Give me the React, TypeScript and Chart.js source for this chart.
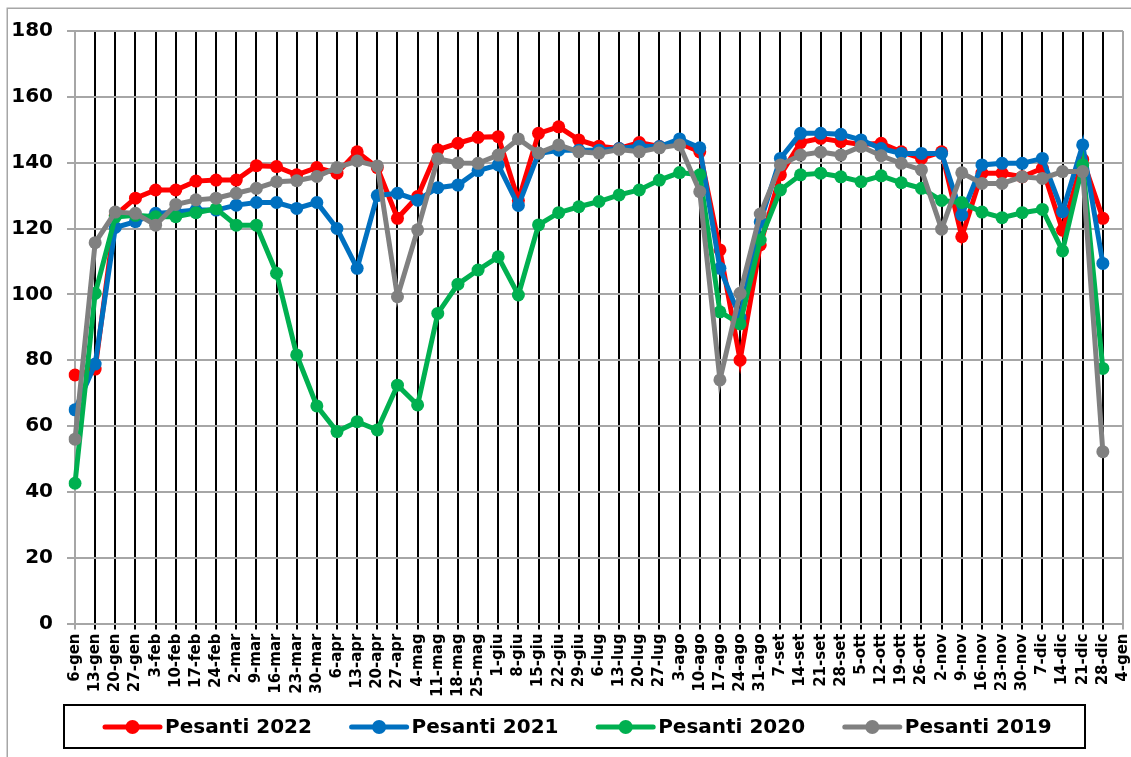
import React, { useEffect, useRef } from 'react';
import { Chart, registerables } from 'chart.js';

Chart.register(...registerables);

const categories = ['6-gen','13-gen','20-gen','27-gen','3-feb','10-feb','17-feb','24-feb','2-mar','9-mar','16-mar','23-mar','30-mar','6-apr','13-apr','20-apr','27-apr','4-mag','11-mag','18-mag','25-mag','1-giu','8-giu','15-giu','22-giu','29-giu','6-lug','13-lug','20-lug','27-lug','3-ago','10-ago','17-ago','24-ago','31-ago','7-set','14-set','21-set','28-set','5-ott','12-ott','19-ott','26-ott','2-nov','9-nov','16-nov','23-nov','30-nov','7-dic','14-dic','21-dic','28-dic','4-gen'];

const pesanti2022 = [75.5,77.3,124,129.2,131.7,131.7,134.4,134.7,134.7,139.1,138.8,136.3,138.5,136.8,143.3,138.5,123.1,129.7,143.9,145.9,147.7,147.9,128.5,148.9,150.9,146.9,145,144.3,146.1,144.9,145.9,143.3,113.5,80,115,136.3,146.1,147.4,146.4,145.5,145.9,143.3,141.3,143.3,117.5,136.8,136.8,135.7,138.3,119.5,141,123.1,null];
const pesanti2021 = [64.9,78.8,120.3,122.1,124.6,125,125.6,125.6,127.1,127.9,127.9,126.1,127.9,120,107.9,130,130.7,128.6,132.4,133.2,137.6,139.3,127,142.8,143.8,143.8,143.8,144.3,145,144.9,147.2,144.5,107.9,93,122,141.3,148.9,148.9,148.6,146.9,144.3,142.8,142.8,142.8,124.1,139.3,139.8,139.8,141.3,125.1,145.4,109.4,null];
const pesanti2020 = [42.6,100.3,123.5,124,123.6,123.6,124.8,126,121,121,106.4,81.6,66.1,58.3,61.3,58.8,72.4,66.4,94.2,103.1,107.4,111.4,99.8,121.1,124.8,126.6,128.2,130.2,131.7,134.7,137,136.3,94.7,91,116.5,131.7,136.3,136.8,135.7,134.2,136,133.9,132.2,128.5,127.9,125,123.3,124.8,125.8,113.2,139.3,77.5,null];
const pesanti2019 = [56,115.7,125,124.6,121,127.3,128.7,129.2,130.7,132.2,134.2,134.5,135.8,138.5,140.5,139,99.3,119.6,141.2,139.9,139.8,142.3,147.2,142.9,145.4,143.3,142.9,144,143.3,144.5,145.4,131.2,74,100.3,124.4,139.3,142.3,143.2,142.3,144.9,142.1,139.8,137.8,119.8,136.9,133.7,133.7,135.7,135.2,137.3,137.3,52.2,null];

const seriesNames = ['Pesanti 2022', 'Pesanti 2021', 'Pesanti 2020', 'Pesanti 2019'];
const seriesColors = ['#FF0000', '#0070C0', '#00B050', '#808080'];
const seriesData = [pesanti2022, pesanti2021, pesanti2020, pesanti2019];

const yMin = 0;
const yMax = 180;
const yStep = 20;

const FONT = '"DejaVu Sans", Verdana, sans-serif';

const framePlugin = {
  id: 'frameAndLegend',
  afterDraw(chart: any) {
    const ctx = chart.ctx as CanvasRenderingContext2D;
    ctx.save();
    // outer chart border
    ctx.strokeStyle = '#a6a6a6';
    ctx.lineWidth = 1.5;
    ctx.strokeRect(7.25, 8.25, 1200, 900);
    // legend box
    ctx.strokeStyle = '#000000';
    ctx.lineWidth = 2;
    ctx.strokeRect(64, 705, 1021, 43);
    const cy = 727;
    ctx.font = `bold 20px ${FONT}`;
    ctx.textBaseline = 'middle';
    ctx.textAlign = 'left';
    seriesNames.forEach((name, k) => {
      const x0 = 105 + k * 246.6;
      ctx.strokeStyle = seriesColors[k];
      ctx.lineWidth = 5;
      ctx.lineCap = 'round';
      ctx.beginPath();
      ctx.moveTo(x0, cy);
      ctx.lineTo(x0 + 55, cy);
      ctx.stroke();
      ctx.fillStyle = seriesColors[k];
      ctx.beginPath();
      ctx.arc(x0 + 27.5, cy, 7, 0, Math.PI * 2);
      ctx.fill();
      ctx.fillStyle = '#000000';
      ctx.fillText(name, x0 + 60, cy + 1);
    });
    ctx.restore();
  },
};

export default function App() {
  const ref = useRef<HTMLCanvasElement>(null);
  useEffect(() => {
    const drawOrder = [3, 2, 1, 0];
    const chart = new Chart(ref.current as HTMLCanvasElement, {
      type: 'line',
      data: {
        labels: categories,
        datasets: seriesNames.map((name, k) => ({
          label: name,
          data: seriesData[k],
          borderColor: seriesColors[k],
          backgroundColor: seriesColors[k],
          pointBackgroundColor: seriesColors[k],
          pointBorderWidth: 0,
          pointRadius: 6.5,
          borderWidth: 5,
          tension: 0,
          order: drawOrder[k],
        })),
      },
      options: {
        animation: false,
        responsive: false,
        devicePixelRatio: 1,
        layout: { padding: { top: 31, left: 0, right: 19, bottom: 71.5 } },
        plugins: { legend: { display: false }, tooltip: { enabled: false } },
        scales: {
          x: {
            type: 'category',
            offset: false,
            afterFit: (s: any) => { s.height = 80; },
            grid: {
              color: (c: any) => (c.index === 0 || c.index === categories.length - 1 ? '#a6a6a6' : '#000000'),
              lineWidth: 2,
              tickLength: 6,
              drawOnChartArea: true,
            },
            border: { color: '#a6a6a6', width: 2 },
            ticks: {
              autoSkip: false,
              minRotation: 90,
              maxRotation: 90,
              padding: 4,
              color: '#000000',
              font: { family: FONT, weight: 'bold', size: 15 },
            },
          },
          y: {
            min: yMin,
            max: yMax,
            afterFit: (s: any) => { s.width = 75; },
            grid: { color: '#a6a6a6', lineWidth: 2, tickLength: 8 },
            border: { color: '#a6a6a6', width: 2 },
            ticks: {
              stepSize: yStep,
              padding: 14,
              color: '#000000',
              font: { family: FONT, weight: 'bold', size: 20 },
            },
          },
        },
      },
      plugins: [framePlugin],
    } as any);
    return () => chart.destroy();
  }, []);
  return (
    <div style={{ position: 'absolute', left: 0, top: 0, width: 1131, height: 757, overflow: 'hidden', background: '#ffffff' }}>
      <canvas ref={ref} width={1145} height={775} style={{ display: 'block' }} />
    </div>
  );
}
